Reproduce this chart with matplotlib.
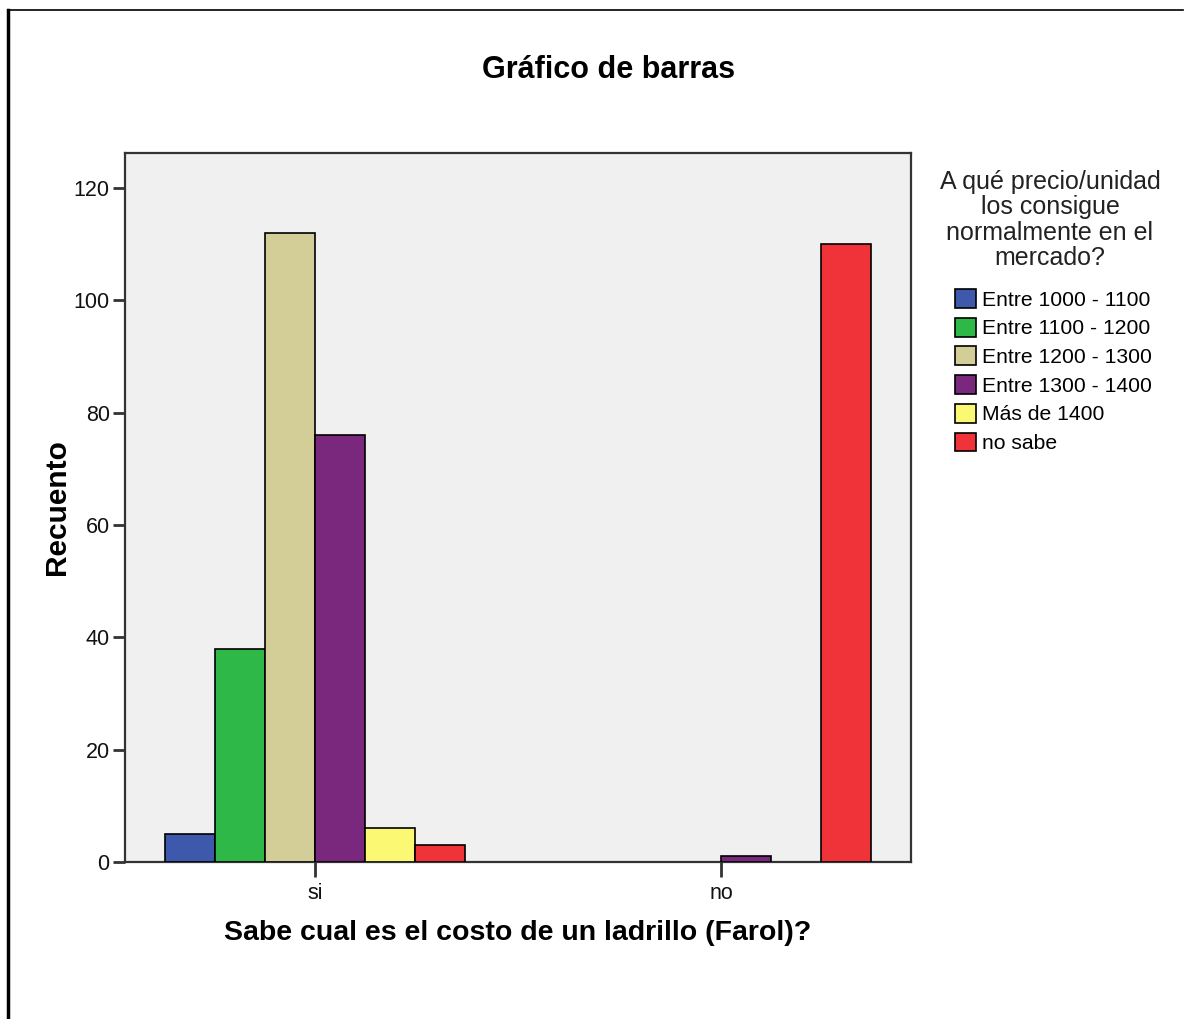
import matplotlib
matplotlib.use("Agg")
import matplotlib.pyplot as plt
from matplotlib.lines import Line2D
import numpy as np

categories = ["si", "no"]
series_names = ["Entre 1000 - 1100", "Entre 1100 - 1200", "Entre 1200 - 1300",
                "Entre 1300 - 1400", "Más de 1400", "no sabe"]
values = {
    "Entre 1000 - 1100": [5, 0],
    "Entre 1100 - 1200": [38, 0],
    "Entre 1200 - 1300": [112, 0],
    "Entre 1300 - 1400": [76, 1],
    "Más de 1400": [6, 0],
    "no sabe": [3, 110],
}
colors = ["#3E58AC", "#2EB848", "#D3CE97", "#79287D", "#FBF873", "#EF3338"]
yticks = [0, 20, 40, 60, 80, 100, 120]

plt.rcParams['font.family'] = ['Liberation Sans', 'DejaVu Sans']

W, H = 1187, 1019
fig = plt.figure(figsize=(W / 100, H / 100), dpi=100)

left, right, top, bottom = 125, 911, 153, 862
ax = fig.add_axes([left / W, 1 - bottom / H, (right - left) / W, (bottom - top) / H])
ax.set_facecolor("#F0F0F0")

x = np.arange(len(categories))
w = 50 / 406
handles = []
for i, name in enumerate(series_names):
    vals = values[name]
    offs = (i - 2.5) * w
    lws = [1.2 if v > 0 else 0 for v in vals]
    b = ax.bar(x + offs, vals, width=w, color=colors[i], edgecolor="black",
               linewidth=lws, zorder=3)
    handles.append(b)

ax.set_xlim(-0.468, 1.468)
ax.set_ylim(0, 126.2)
ax.set_yticks(yticks)
ax.set_xticks(x)
ax.set_xticklabels(categories)
ax.tick_params(axis='y', length=9, width=2, color="#333333", labelsize=15.5, pad=2,
               labelcolor="#111111")
ax.tick_params(axis='x', length=11, width=2, color="#333333", labelsize=15.5, pad=4,
               labelcolor="#111111")
for s in ax.spines.values():
    s.set_color("#333333")
    s.set_linewidth(1.6)

ax.set_ylabel("Recuento", fontsize=21.5, fontweight="bold", labelpad=2)
ax.set_xlabel("Sabe cual es el costo de un ladrillo (Farol)?", fontsize=20.5,
              fontweight="bold", labelpad=12)

fig.text(609 / W, 1 - 70 / H, "Gráfico de barras", fontsize=22, fontweight="bold",
         ha="center", va="center")

fig.text(1050 / W, 1 - 220 / H,
         "A qué precio/unidad\nlos consigue\nnormalmente en el\nmercado?",
         fontsize=18, ha="center", va="center", linespacing=1.07, color="#222222")

leg = fig.legend(handles, series_names, loc="upper left",
                 bbox_to_anchor=(955 / W, 1 - 289 / H), frameon=False,
                 fontsize=15.2, handlelength=1.0, handleheight=1.0,
                 handletextpad=0.3, labelspacing=0.38, borderpad=0, borderaxespad=0)

fig.add_artist(Line2D([8 / W, 8 / W], [0, 1 - 10 / H], color="black", lw=2.5,
                      transform=fig.transFigure))
fig.add_artist(Line2D([8 / W, 1183 / W], [1 - 10 / H, 1 - 10 / H], color="black",
                      lw=1.2, transform=fig.transFigure))

fig.savefig("out.png", dpi=100)
